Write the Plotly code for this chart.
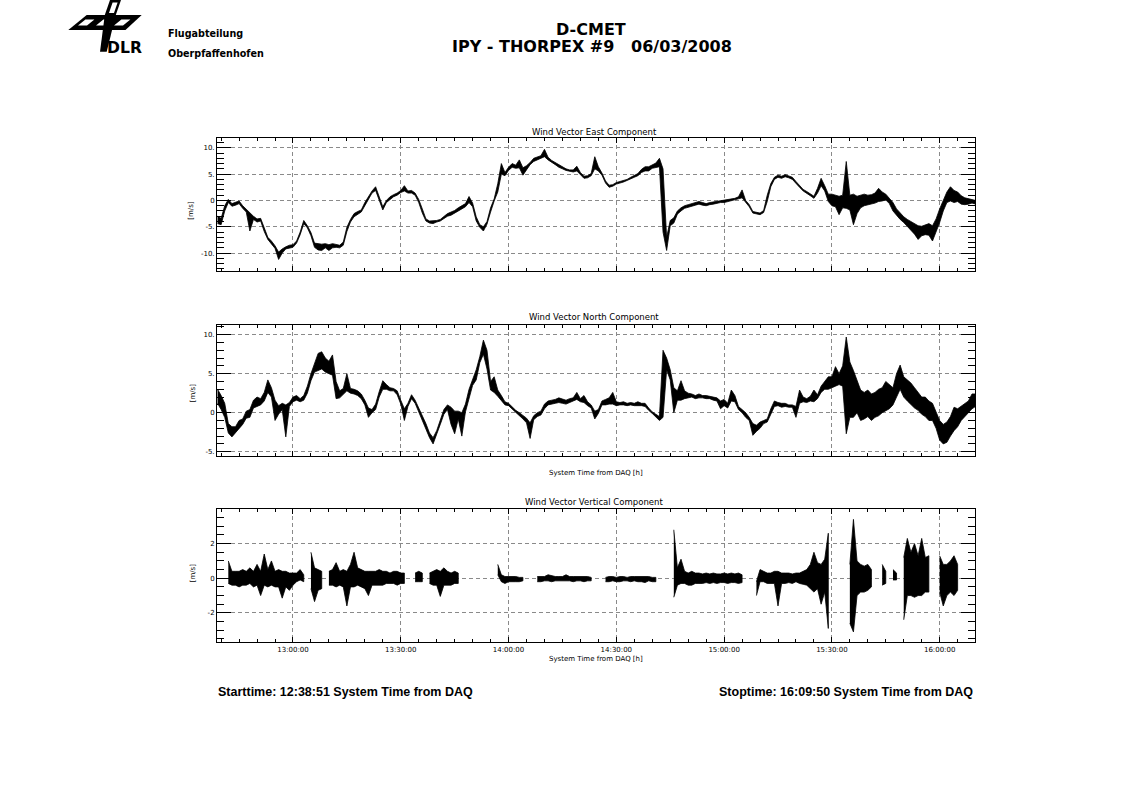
import plotly.graph_objects as go
from datetime import datetime, timedelta

# ---------------- data ----------------
# sample times: minutes after 12:00 on 06/03/2008 (one sample per minute);
# for every minute the lower and upper edge of the drawn (noisy) signal trace.
MINUTES = [39, 40, 41, 42, 43, 44, 45, 46, 47, 48, 49, 50, 51, 52, 53, 54, 55, 56, 57, 58,
           59, 60, 61, 62, 63, 64, 65, 66, 67, 68, 69, 70, 71, 72, 73, 74, 75, 76, 77, 78,
           79, 80, 81, 82, 83, 84, 85, 86, 87, 88, 89, 90, 91, 92, 93, 94, 95, 96, 97, 98,
           99, 100, 101, 102, 103, 104, 105, 106, 107, 108, 109, 110, 111, 112, 113, 114, 115, 116, 117, 118,
           119, 120, 121, 122, 123, 124, 125, 126, 127, 128, 129, 130, 131, 132, 133, 134, 135, 136, 137, 138,
           139, 140, 141, 142, 143, 144, 145, 146, 147, 148, 149, 150, 151, 152, 153, 154, 155, 156, 157, 158,
           159, 160, 161, 162, 163, 164, 165, 166, 167, 168, 169, 170, 171, 172, 173, 174, 175, 176, 177, 178,
           179, 180, 181, 182, 183, 184, 185, 186, 187, 188, 189, 190, 191, 192, 193, 194, 195, 196, 197, 198,
           199, 200, 201, 202, 203, 204, 205, 206, 207, 208, 209, 210, 211, 212, 213, 214, 215, 216, 217, 218,
           219, 220, 221, 222, 223, 224, 225, 226, 227, 228, 229, 230, 231, 232, 233, 234, 235, 236, 237, 238,
           239, 240, 241, 242, 243, 244, 245, 246, 247, 248, 249, 250]

EAST_LO = [-4.4, -4.6, -2.0, -0.4, -1.1, -0.9, -0.6, -1.5, -2.2, -5.8, -3.6, -4.1, -3.9, -5.9, -7.4, -8.3, -9.1, -11.2, -10.0, -9.2,
           -9.0, -8.9, -8.1, -6.5, -4.4, -5.2, -6.7, -8.9, -9.4, -9.5, -9.0, -9.5, -9.0, -8.9, -9.0, -8.5, -5.9, -4.1, -3.1, -2.6,
           -2.2, -1.0, 0.3, 1.4, 1.9, 0.0, -1.8, -0.4, 0.2, 0.7, 1.0, 1.5, 1.8, 1.4, 1.4, 1.0, -0.4, -2.4, -3.9, -4.3,
           -4.4, -4.1, -3.9, -3.5, -3.0, -2.8, -2.5, -2.0, -1.6, -1.2, -0.4, -1.2, -3.9, -5.1, -5.8, -4.5, -2.2, -0.1, 1.6, 5.0,
           4.7, 5.7, 6.3, 6.1, 6.2, 4.8, 5.9, 6.8, 7.4, 7.8, 8.0, 8.3, 7.7, 7.2, 6.8, 6.3, 6.0, 5.7, 5.5, 5.4,
           5.6, 4.9, 4.2, 4.3, 4.7, 6.0, 5.6, 4.8, 3.3, 2.5, 2.7, 3.1, 3.3, 3.5, 3.7, 4.1, 4.4, 4.7, 5.3, 5.6,
           5.6, 6.1, 6.2, 6.4, -6.0, -9.5, -4.8, -4.3, -2.6, -2.0, -1.5, -1.3, -1.1, -0.9, -0.7, -0.9, -1.0, -0.8, -0.7, -0.6,
           -0.4, -0.4, -0.2, 0.0, 0.1, 0.3, 0.5, -0.4, -1.2, -2.4, -2.6, -2.7, -2.3, -0.2, 2.6, 4.0, 4.4, 4.2, 4.5, 4.3,
           4.0, 3.3, 2.5, 1.8, 1.4, 0.9, 0.4, 1.4, 2.8, 1.8, -0.2, -1.0, -1.2, -2.7, -1.4, -1.5, -1.8, -4.6, -2.5, -1.4,
           -1.0, -0.8, -0.7, -0.5, -0.2, -0.1, 0.1, -0.6, -2.0, -2.8, -3.6, -4.2, -5.0, -5.6, -6.4, -7.4, -6.7, -6.5, -6.6, -7.7,
           -6.0, -4.2, -2.0, -0.4, -0.1, -0.4, -0.2, -0.7, -0.8, -0.7, -0.5, -0.7]
EAST_HI = [-3.0, -3.4, -1.0, 0.2, -0.6, -0.4, -0.1, -1.0, -1.7, -2.4, -3.0, -3.5, -3.4, -5.2, -7.0, -7.7, -8.6, -9.8, -9.2, -8.8,
           -8.5, -8.4, -7.7, -6.0, -3.8, -4.8, -6.1, -8.1, -8.2, -8.3, -8.2, -8.4, -8.2, -8.3, -8.5, -7.9, -5.1, -3.6, -2.5, -2.1,
           -1.8, -0.4, 0.7, 1.8, 2.6, 0.8, -1.2, 0.0, 0.7, 1.1, 1.4, 1.9, 2.8, 1.8, 1.9, 1.4, 0.2, -1.6, -3.5, -3.9,
           -3.9, -3.8, -3.6, -3.1, -2.5, -2.2, -1.9, -1.4, -1.0, -0.6, 0.75, -0.5, -3.1, -4.6, -5.0, -4.0, -1.4, 0.3, 3.2, 7.0,
           5.3, 6.3, 7.0, 6.7, 7.7, 6.2, 6.6, 7.2, 8.0, 8.3, 8.5, 9.7, 8.2, 7.6, 7.2, 6.7, 6.4, 6.0, 5.8, 5.8,
           6.5, 5.3, 4.6, 4.7, 5.1, 8.3, 6.4, 5.2, 3.7, 2.9, 3.0, 3.4, 3.6, 3.8, 4.0, 4.4, 4.8, 5.1, 5.9, 6.4,
           6.4, 6.8, 7.1, 8.0, 6.0, -7.0, -3.8, -3.3, -2.0, -1.4, -1.0, -0.8, -0.6, -0.4, -0.2, -0.4, -0.6, -0.4, -0.3, -0.2,
           -0.1, 0.0, 0.1, 0.3, 0.4, 0.7, 2.0, 0.0, -0.8, -2.1, -2.3, -2.4, -1.9, 1.0, 3.2, 4.4, 4.8, 4.6, 4.9, 4.7,
           4.4, 3.6, 2.8, 2.1, 1.7, 1.2, 0.8, 2.3, 4.2, 2.8, 1.2, 1.2, 1.0, 0.8, 1.0, 7.4, 1.0, 1.2, 0.8, 1.0,
           1.2, 1.0, 1.1, 1.4, 2.3, 1.6, 1.2, 0.4, -0.4, -1.6, -2.4, -3.1, -3.6, -4.0, -4.4, -4.8, -4.9, -4.6, -4.4, -4.8,
           -3.5, -1.6, 0.0, 1.6, 2.6, 1.9, 1.6, 0.9, 0.5, 0.3, 0.2, 0.0]

NORTH_LO = [1.2, 0.4, -0.6, -2.6, -3.1, -2.6, -2.0, -1.5, -0.7, -0.6, 0.6, 0.8, 1.0, 1.5, 2.6, 2.0, -1.0, -0.2, 0.4, -3.1,
            0.8, 1.4, 1.6, 1.4, 1.6, 2.5, 4.1, 5.2, 5.4, 5.6, 5.2, 5.0, 4.8, 1.8, 1.9, 2.4, 2.8, 2.5, 2.4, 2.2,
            1.8, 1.0, -0.6, 0.0, 0.4, 2.0, 3.0, 3.0, 2.8, 2.8, 2.3, 1.1, -1.0, 0.8, 1.8, 1.2, 0.2, -0.8, -2.1, -3.2,
            -4.0, -2.9, -1.5, -0.2, 0.4, -1.5, -2.7, -0.8, -3.0, 0.1, 1.8, 3.5, 4.2, 6.4, 7.5, 5.6, 2.9, 2.6, 2.1, 1.6,
            1.0, 0.9, 0.4, 0.0, -0.4, -0.8, -1.3, -3.3, -0.9, -0.5, -0.3, 0.5, 1.0, 1.1, 1.2, 1.3, 1.2, 1.1, 1.3, 1.5,
            1.7, 1.4, 1.3, 0.9, 0.6, -0.8, -0.1, 1.0, 1.0, 1.1, 1.1, 0.9, 1.0, 1.0, 0.9, 1.0, 0.9, 0.9, 0.9, 0.8,
            0.3, -0.1, -0.5, -1.0, -0.6, 5.5, 4.2, 0.0, 1.6, 1.6, 1.8, 1.9, 2.0, 1.8, 1.9, 1.9, 1.8, 1.8, 1.6, 1.5,
            0.5, 0.9, 0.6, 1.5, 1.4, 0.4, 0.0, -0.6, -1.0, -2.9, -2.4, -2.0, -1.4, -1.2, -0.1, 0.8, 0.9, 0.7, 0.8, 0.7,
            0.7, -0.6, 1.2, 1.4, 1.3, 1.5, 1.4, 1.8, 2.6, 3.0, 3.0, 3.2, 3.4, 3.6, 3.4, -2.7, -0.6, -0.6, 0.0, -1.0,
            -0.8, -0.5, -1.0, -0.6, -0.4, 0.0, 0.3, 0.5, 1.0, 2.0, 3.0, 2.0, 1.5, 1.0, 0.6, 0.3, -0.2, -0.5, -1.0, -1.0,
            -2.0, -3.5, -4.0, -3.8, -3.0, -2.3, -1.8, -1.0, -0.5, 0.0, 0.5, 0.8]
NORTH_HI = [3.0, 2.2, 1.2, -1.4, -1.8, -1.8, -1.0, -0.8, 0.2, 0.4, 1.6, 2.0, 1.8, 2.6, 4.2, 3.2, 1.6, 0.9, 1.2, 1.0,
            1.3, 2.0, 2.2, 1.8, 2.2, 3.4, 5.0, 6.4, 7.6, 7.8, 7.0, 6.6, 7.4, 4.0, 2.8, 3.1, 5.0, 3.1, 3.0, 2.8,
            2.4, 1.6, 0.6, 0.4, 1.1, 2.7, 4.1, 3.6, 3.2, 3.1, 2.8, 1.6, 0.5, 1.2, 2.3, 1.6, 0.6, -0.3, -1.4, -2.6,
            -3.2, -2.3, -0.9, 0.4, 1.0, 0.7, 0.2, 0.2, 0.0, 1.1, 3.0, 4.3, 5.5, 7.2, 9.3, 8.0, 4.0, 4.6, 2.9, 2.2,
            1.4, 1.2, 0.7, 0.3, 0.0, -0.4, -0.7, -1.3, -0.4, 0.0, 0.2, 1.1, 1.5, 1.6, 1.7, 1.9, 1.7, 1.6, 1.8, 1.9,
            2.6, 1.8, 2.2, 1.4, 1.0, 0.2, 0.4, 1.5, 1.7, 1.9, 2.6, 1.4, 1.3, 1.4, 1.2, 1.3, 1.2, 1.4, 1.2, 1.2,
            0.6, 0.1, -0.2, -0.5, 8.0, 7.0, 5.5, 3.2, 2.8, 4.1, 2.8, 2.5, 2.4, 2.2, 2.4, 2.2, 2.2, 2.1, 2.0, 1.9,
            1.5, 1.7, 1.2, 2.9, 2.2, 0.8, 0.4, 0.0, -0.6, -1.4, -1.6, -1.2, -1.0, -0.8, 0.5, 1.5, 1.3, 1.2, 1.2, 1.0,
            1.0, 0.8, 2.9, 2.0, 1.8, 2.1, 2.9, 2.3, 3.4, 4.0, 4.6, 4.6, 5.9, 5.0, 6.0, 9.7, 6.5, 5.4, 4.0, 2.9,
            2.6, 2.9, 2.4, 2.6, 3.0, 3.2, 4.0, 3.6, 3.2, 5.0, 6.1, 4.6, 4.2, 3.8, 3.2, 2.6, 2.0, 2.0, 1.5, 1.2,
            0.0, -1.0, -1.5, -1.2, -0.5, 0.7, 0.5, 0.8, 1.2, 1.5, 2.4, 2.4]

VERT_LO = [None, None, None, -0.3, -0.4, -0.4, -0.5, -0.4, -0.4, -0.3, -0.5, -0.4, -1.0, -0.4, -0.5, -0.4, -0.5, -0.5, -1.15, -0.5,
           -0.7, -0.4, -0.2, -0.1, -0.2, None, -0.6, -1.35, -0.7, -0.6, None, -0.4, -0.4, -0.5, -0.4, -0.5, -1.6, -0.5, -0.5, -0.4,
           -0.5, -0.6, -1.0, -0.4, -0.4, -0.4, -0.4, -0.3, -0.3, -0.3, -0.4, -0.3, -0.3, None, None, -0.2, -0.2, -0.2, None, -0.3,
           -0.4, -0.4, -1.05, -0.4, -0.4, -0.4, -0.3, -0.3, None, None, None, None, None, None, None, None, None, None, 0.2, -0.2,
           -0.3, -0.2, -0.2, -0.2, -0.2, -0.15, None, None, None, -0.2, -0.2, -0.15, -0.15, -0.2, -0.15, -0.15, -0.15, -0.15, -0.15, -0.2,
           -0.15, -0.15, -0.2, -0.15, -0.15, None, None, None, -0.2, -0.2, -0.15, -0.2, -0.2, -0.15, -0.15, -0.2, -0.15, -0.2, -0.2, -0.25,
           -0.15, -0.2, -0.2, None, None, None, None, -1.1, -0.4, -0.3, -0.3, -0.4, -0.4, -0.3, -0.3, -0.3, -0.25, -0.3, -0.25, -0.3,
           -0.25, -0.25, -0.3, -0.25, -0.25, -0.3, -0.25, None, None, None, -1.0, -0.2, -0.2, -0.3, -0.3, -0.3, -1.6, -0.3, -0.3, -0.25,
           -0.3, -0.2, -0.3, -0.35, -0.4, -0.6, -0.8, -0.6, -1.5, -0.8, -2.9, None, None, None, None, None, -2.6, -3.1, -1.0, -0.8,
           -0.8, -0.7, -0.5, None, None, -0.4, -0.3, None, -0.1, -0.1, None, -2.4, -1.0, -1.0, -1.1, -1.0, -1.0, -0.8, -0.8, None,
           None, -0.8, -1.6, -1.0, -0.8, -1.0, -0.7, None, None, None, None, None]
VERT_HI = [None, None, None, 1.0, 0.4, 0.4, 0.4, 0.5, 0.4, 0.6, 0.4, 0.8, 0.4, 1.4, 0.5, 1.0, 0.4, 0.5, 0.4, 0.4,
           0.3, 0.3, 0.3, 0.5, 0.2, None, 1.5, 0.6, 0.5, 0.4, None, 0.4, 0.5, 0.9, 0.4, 0.5, 0.4, 0.8, 1.5, 0.6,
           0.5, 0.4, 0.4, 0.4, 0.4, 0.5, 0.4, 0.4, 0.3, 0.4, 0.4, 0.3, 0.3, None, None, 0.3, 0.4, 0.3, None, 0.3,
           0.4, 0.5, 0.4, 0.6, 0.4, 0.3, 0.4, 0.3, None, None, None, None, None, None, None, None, None, None, 0.8, 0.2,
           0.1, 0.1, 0.1, 0.1, 0.05, 0.05, None, None, None, 0.1, 0.1, 0.1, 0.2, 0.15, 0.1, 0.1, 0.1, 0.2, 0.1, 0.1,
           0.1, 0.1, 0.1, 0.1, 0.05, None, None, None, 0.05, 0.1, 0.1, 0.05, 0.1, 0.1, 0.05, 0.1, 0.1, 0.1, 0.1, 0.1,
           0.1, 0.05, 0.05, None, None, None, None, 2.8, 0.6, 1.1, 0.4, 0.3, 0.4, 0.3, 0.3, 0.25, 0.3, 0.25, 0.3, 0.25,
           0.25, 0.3, 0.25, 0.3, 0.25, 0.3, 0.2, None, None, None, -0.2, 0.5, 0.4, 0.3, 0.3, 0.4, 0.4, 0.3, 0.3, 0.3,
           0.25, 0.3, 0.3, 0.4, 0.5, 0.8, 1.5, 0.9, 0.8, 1.1, 2.6, None, None, None, None, None, 0.8, 3.4, 1.0, 0.8,
           0.7, 0.8, 0.5, None, None, 0.8, 0.4, None, 0.5, 0.3, None, 1.2, 2.3, 1.5, 2.0, 1.3, 2.3, 1.2, 1.3, None,
           None, 1.3, 0.8, 0.8, 1.0, 1.3, 0.8, None, None, None, None, None]

X_START = "2008-03-06 12:38:51"
X_STOP = "2008-03-06 16:09:50"
EAST_RANGE = [-13.3, 11.8]
NORTH_RANGE = [-5.55, 11.3]
VERT_RANGE = [-3.7, 4.0]
EAST_TICKS = [-10, -5, 0, 5, 10]
EAST_TICKTEXT = ["-10.", "-5.", "0", "5.", "10."]
NORTH_TICKS = [-5, 0, 5, 10]
NORTH_TICKTEXT = ["-5.", "0", "5.", "10."]
VERT_TICKS = [-2, 0, 2]
VERT_TICKTEXT = ["-2", "0", "2"]

TITLE = "D-CMET"
SUBTITLE = "IPY - THORPEX #9\u00a0\u00a0\u00a006/03/2008"
PANEL_TITLES = ["Wind Vector East Component", "Wind Vector North Component", "Wind Vector Vertical Component"]
XTITLE = "System Time from DAQ [h]"
YTITLE = "[m/s]"
START_TXT = "Starttime: 12:38:51 System Time from DAQ"
STOP_TXT = "Stoptime: 16:09:50 System Time from DAQ"

# ---------------- helpers ----------------
W, H = 1123, 793


def px(x):
    return x / W


def py(y):
    return 1 - y / H


base = datetime(2008, 3, 6, 12, 0, 0)
times = [(base + timedelta(minutes=m)).strftime("%Y-%m-%d %H:%M:%S") for m in MINUTES]


def band(lo, hi):
    """closed outline (upper edge forward, lower edge back) per contiguous data segment"""
    xs, ys, seg = [], [], []
    for i in range(len(times) + 1):
        ok = i < len(times) and lo[i] is not None and hi[i] is not None
        if ok:
            seg.append(i)
        elif seg:
            xs += [times[j] for j in seg] + [times[j] for j in reversed(seg)] + [None]
            ys += [hi[j] for j in seg] + [lo[j] for j in reversed(seg)] + [None]
            seg = []
    return xs, ys


fig = go.Figure()
for i, (lo, hi) in enumerate([(EAST_LO, EAST_HI), (NORTH_LO, NORTH_HI), (VERT_LO, VERT_HI)]):
    suf = "" if i == 0 else str(i + 1)
    bx, by = band(lo, hi)
    fig.add_trace(go.Scatter(x=bx, y=by, mode="lines", fill="toself", fillcolor="black",
                             line=dict(color="black", width=0.8), connectgaps=False,
                             showlegend=False, hoverinfo="skip",
                             xaxis="x" + suf, yaxis="y" + suf))

XDOM = [px(217), px(975)]
PANELS = [(138.3, 270.5), (324.5, 456.0), (509.0, 642.3)]
tickfont = dict(family="DejaVu Sans", size=7, color="black")
GRID = dict(showgrid=True, gridcolor="#8a8a8a", griddash="4px,3px", gridwidth=1)

for i, (top, bot) in enumerate(PANELS):
    suf = "" if i == 0 else str(i + 1)
    xa = dict(type="date", range=[X_START, X_STOP], domain=XDOM, anchor="y" + suf,
              showline=True, linecolor="black", linewidth=1, mirror="allticks",
              ticks="inside", ticklen=5, tickcolor="black", tickwidth=1,
              tick0="2008-03-06 13:00:00", dtick=1800000, tickformat="%H:%M:%S",
              tickfont=tickfont, showticklabels=(i == 2), zeroline=False,
              minor=dict(dtick=300000, tick0="2008-03-06 13:00:00", ticks="inside", ticklen=3,
                         tickcolor="black", showgrid=False),
              **GRID)
    rng, tv, tt, mdt = [(EAST_RANGE, EAST_TICKS, EAST_TICKTEXT, 1),
                        (NORTH_RANGE, NORTH_TICKS, NORTH_TICKTEXT, 1),
                        (VERT_RANGE, VERT_TICKS, VERT_TICKTEXT, 0.5)][i]
    ya = dict(range=rng, domain=[py(bot), py(top)], anchor="x" + suf,
              showline=True, linecolor="black", linewidth=1, mirror="allticks",
              ticks="inside", ticklen=14, tickcolor="black", tickwidth=1,
              tickmode="array", tickvals=tv, ticktext=tt, tickfont=tickfont, zeroline=False,
              minor=dict(tickmode="linear", tick0=0, dtick=mdt, ticks="inside", ticklen=7,
                         tickcolor="black", showgrid=False),
              **GRID)
    fig.layout["xaxis" + suf] = xa
    fig.layout["yaxis" + suf] = ya

ann = []


def add_text(text, x, y, size, family="DejaVu Sans", bold=False, xanchor="center", angle=0):
    ann.append(dict(text=("<b>%s</b>" % text) if bold else text, x=px(x), y=py(y),
                    xref="paper", yref="paper", xanchor=xanchor, yanchor="middle",
                    showarrow=False, textangle=angle,
                    font=dict(family=family, size=size, color="black")))


add_text(TITLE, 591, 29.2, 16, bold=True)
add_text(SUBTITLE, 592, 46.7, 16, bold=True)
add_text("DLR", 124.2, 47.5, 15.6, bold=True)
add_text("Flugabteilung", 166, 33.5, 9.6, bold=True, xanchor="left")
add_text("Oberpfaffenhofen", 166, 53.5, 9.6, bold=True, xanchor="left")
for t, yy in zip(PANEL_TITLES, [132, 317, 502]):
    add_text(t, 594, yy, 8.5)
for xx, yy in [(190.7, 210), (193.3, 393), (193.3, 573)]:
    add_text(YTITLE, xx, yy, 7, angle=-90)
add_text(XTITLE, 595.5, 473, 7)
add_text(XTITLE, 595.5, 658.5, 7)
add_text(START_TXT, 216, 691.5, 12.5, family="Liberation Sans", bold=True, xanchor="left")
add_text(STOP_TXT, 975, 691.5, 12.5, family="Liberation Sans", bold=True, xanchor="right")


# DLR logo drawn as paths
def path(points, fill):
    d = "M " + " L ".join("%.5f,%.5f" % (px(a), py(b)) for a, b in points) + " Z"
    return dict(type="path", path=d, xref="paper", yref="paper", fillcolor=fill,
                line=dict(width=0), layer="above")


shapes = []
# wing with checkered openings
shapes.append(path([(86.7, 15), (141.7, 15), (125.5, 30), (68.3, 30)], "black"))
for x0 in [78, 96, 114]:
    shapes.append(path([(x0 + 7.4, 19.5), (x0 + 16.4, 19.5), (x0 + 9, 25.5), (x0, 25.5)], "white"))
# fuselage: hollow nose above the wing, solid tail below it
shapes.append(path([(110, 0), (121, 0), (115.8, 15), (104.8, 15)], "black"))
shapes.append(path([(112.6, 2.5), (117.6, 2.5), (114, 13), (109, 13)], "white"))
shapes.append(path([(104.8, 15), (115.8, 15), (106.7, 51.7), (100, 51.7)], "black"))

fig.update_layout(width=W, height=H, margin=dict(l=0, r=0, t=0, b=0),
                  paper_bgcolor="white", plot_bgcolor="white",
                  annotations=ann, shapes=shapes, showlegend=False)

fig.write_html("out.html", config={"displayModeBar": False},
               post_script="document.body.style.margin='0px';")
